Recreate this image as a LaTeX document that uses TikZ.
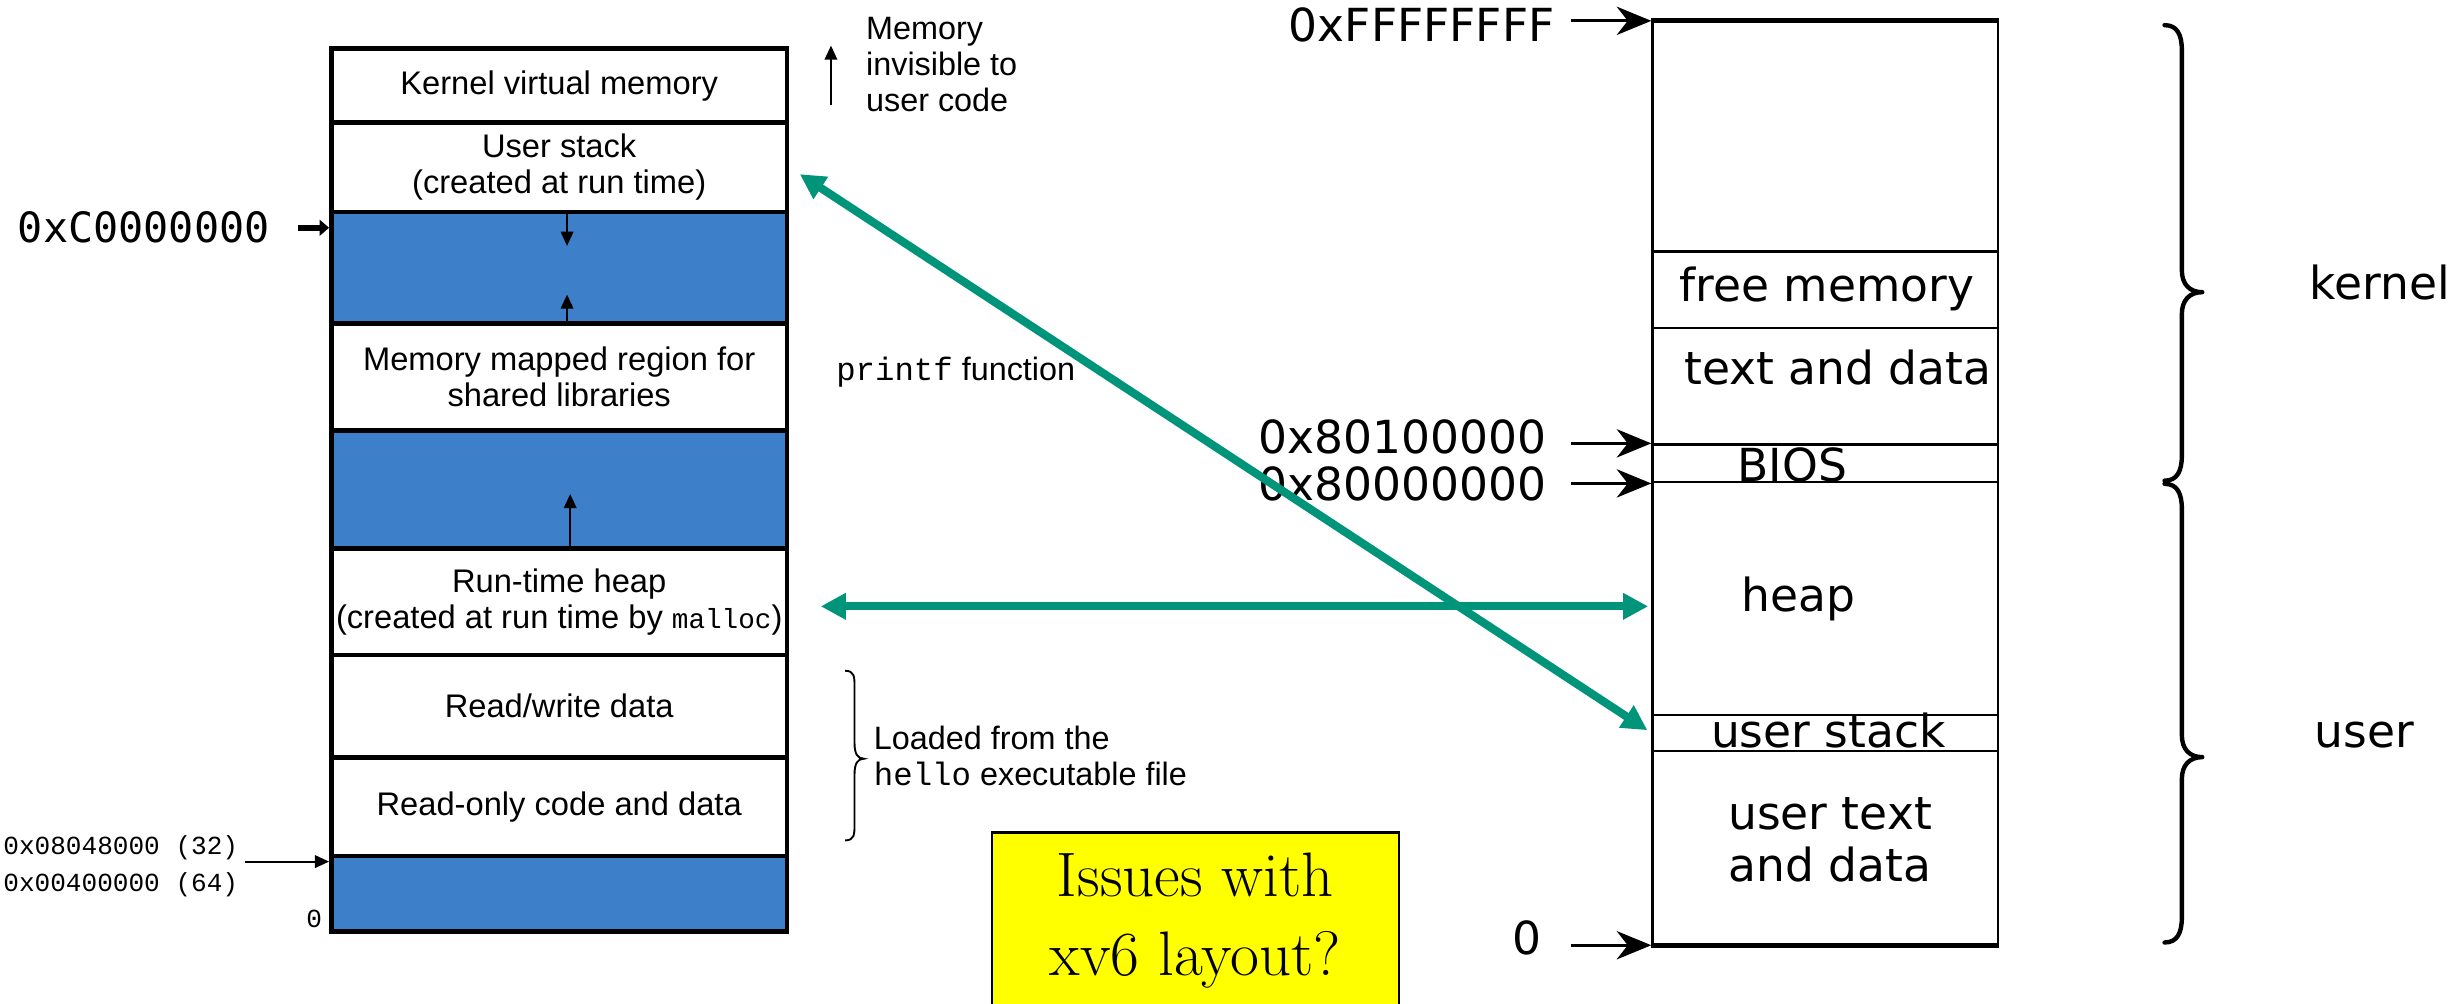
\documentclass[tikz,border=0pt]{standalone}
\usepackage{fontspec}
\usetikzlibrary{arrows.meta}
\newfontfamily\helv{Liberation Sans}
\newfontfamily\cour{Liberation Mono}
\newfontfamily\dvs{DejaVu Sans}
\newfontfamily\dvm{DejaVu Sans Mono}
\definecolor{scanblue}{RGB}{62,127,202}
\definecolor{linkgreen}{RGB}{0,148,122}
\definecolor{notebg}{RGB}{255,255,0}
\tikzset{
  seg/.style={draw, line width=1.5pt, minimum width=145pt, inner sep=1pt, align=center,
    fill=white, font=\helv\fontsize{10.4}{11.5}\selectfont},
  gapseg/.style={seg, fill=scanblue},
  xseg/.style={draw, line width=0.75pt, minimum width=110pt, inner sep=0pt},
  rlab/.style={font=\dvs\fontsize{14.5}{16.5}\selectfont, align=center, inner sep=0pt},
  note/.style={font=\helv\fontsize{10.3}{11.5}\selectfont, align=left, inner sep=0pt},
  tinyarrow/.style={line width=0.6pt, -{Triangle[length=4.5pt,width=4pt]}},
  addrarrow/.style={line width=1pt, -{Stealth[length=11pt,width=9pt,inset=3.5pt]}},
  link/.style={draw=linkgreen, line width=2.6pt,
    {Triangle[length=8pt,width=8pt]}-{Triangle[length=8pt,width=8pt]}},
  bracestroke/.style={line width=0.6pt},
  bigbrace/.style={line width=1.4pt, line cap=round, line join=round}
}
\begin{document}
\begin{tikzpicture}[x=0.5pt, y=-0.5pt]
\fill[white] (0,0) rectangle (1568,639);
\useasboundingbox (0,0) rectangle (1568,639);

% ---- process address space (left) ----
\node[seg, minimum height=23.5pt] (kvm) at (356,54.5) {Kernel virtual memory};
\node[seg, minimum height=28.5pt] (ustk) at (356,106.5) {User stack\\(created at run time)};
\node[gapseg, minimum height=35.5pt] (gapA) at (356,170.5) {};
\node[seg, minimum height=34pt] (mmap) at (356,240) {Memory mapped region for\\shared libraries};
\node[gapseg, minimum height=37.5pt] (gapB) at (356,311.5) {};
\node[seg, minimum height=34pt] (rtheap) at (356,383) {Run-time heap\\(created at run time by {\cour\fontsize{8.8}{11.5}\selectfont malloc})};
\node[seg, minimum height=32.5pt] (rwd) at (356,449.5) {Read/write data};
\node[seg, minimum height=31.5pt] (rocd) at (356,513.5) {Read-only code and data};
\node[gapseg, minimum height=24pt] (gapC) at (356,569) {};

% growth arrows
\draw[tinyarrow] ([xshift=2.5pt]gapA.north) -- ++(0,23);
\draw[tinyarrow] ([xshift=2.5pt]gapA.south) -- ++(0,-20);
\draw[tinyarrow] ([xshift=3.5pt]gapB.south) -- ++(0,-36);

% left-hand addresses
\node[anchor=east, font=\dvm\fontsize{13.3}{15}\selectfont, inner sep=0pt] (kc) at (172,145) {0xC0000000};
\draw[line width=2pt, -{Triangle[length=3pt,width=5pt]}, shorten <=9pt] (kc.east) -- (kc.east -| ustk.west);
\node[anchor=east, align=left, font=\cour\fontsize{8.3}{11.5}\selectfont, inner sep=0pt] (addr) at (152,551.5) {0x08048000 (32)\\0x00400000 (64)};
\draw[tinyarrow, shorten <=2pt] ([yshift=1.5pt]addr.east) -- ([yshift=1.5pt]addr.east -| gapC.west);
\node[font=\cour\fontsize{8.3}{10}\selectfont, inner sep=0pt] (zl) at (200,585) {0};

% annotations to the right of the stack
\node[note, anchor=west] (invis) at (551,41) {Memory\\invisible to\\user code};
\draw[tinyarrow] ([xshift=-11pt,yshift=-13pt]invis.west) -- ++(0,-38);
\node[note, anchor=west] (pf) at (532,237) {{\cour printf} function};
\node[note, anchor=west] (loaded) at (556,481.5) {Loaded from the\\{\cour hello} executable file};
\draw[bracestroke] (538,427) .. controls (544,427) and (544,431) .. (544,437) -- (544,473)
  .. controls (544,480) and (546,483) .. (550,483) .. controls (546,483) and (544,486) .. (544,493)
  -- (544,525) .. controls (544,531) and (544,535) .. (538,535);

% ---- xv6 layout (right) ----
\node[xseg, minimum height=73pt] (rtop) at (1162,87) {};
\node[xseg, minimum height=24.5pt] (rfree) at (1162,184.5) {};
\node[xseg, minimum height=37pt] (rktext) at (1162,246) {};
\node[xseg, minimum height=12pt] (rbios) at (1162,295) {};
\node[xseg, minimum height=74pt] (rheap) at (1162,381) {};
\node[xseg, minimum height=11.5pt] (rstk) at (1162,466.5) {};
\node[xseg, minimum height=61.5pt] (rutext) at (1162,539.5) {};
\draw[line width=1.6pt] (rtop.north west) -- (rtop.north east);
\draw[line width=1.6pt] (rutext.south west) -- (rutext.south east);

\node[rlab] (tfree) at (1163,184) {free memory};
\node[rlab] (tktext) at (1170,234) {text and data};
\node[rlab] (tbios) at (1141,296) {BIOS};
\node[rlab] (theap) at (1145,381) {heap};
\node[rlab] (tstk) at (1164,465) {user stack};
\node[rlab, align=center] (tutext) at (1165,534.5) {user text\\[0pt]and data};

\node[rlab, anchor=east] (aFF) at (990,16) {0xFFFFFFFF};
\draw[addrarrow, shorten <=5pt] (aFF.east |- rtop.north west) -- (rtop.north west);
\node[rlab, anchor=east] (a801) at (985,278) {0x80100000};
\draw[addrarrow, shorten <=7.5pt] (a801.east |- rbios.north west) -- (rbios.north west);
\node[rlab, anchor=east] (a800) at (985,308) {0x80000000};
\draw[addrarrow, shorten <=7.5pt] (a800.east |- rbios.south west) -- (rbios.south west);
\node[rlab, anchor=east] (a0) at (982,597) {0};
\draw[addrarrow, shorten <=9pt] (a0.east |- rutext.south west) -- (rutext.south west);

% kernel / user braces
\draw[bigbrace] (1378,16) .. controls (1386,16) and (1389,22) .. (1389,32) -- (1389,172)
  .. controls (1389,181) and (1394,186) .. (1402,186) .. controls (1394,186) and (1389,191) .. (1389,200)
  -- (1389,290) .. controls (1389,300) and (1386,306) .. (1378,306);
\draw[bigbrace] (1378,308) .. controls (1386,308) and (1389,314) .. (1389,324) -- (1389,468)
  .. controls (1389,477) and (1394,482) .. (1402,482) .. controls (1394,482) and (1389,487) .. (1389,496)
  -- (1389,584) .. controls (1389,594) and (1386,600) .. (1378,600);
\node[rlab, anchor=west] (kl) at (1470,180) {kernel};
\node[rlab, anchor=west] (ul) at (1473,468) {user};

% question box
\node[draw, line width=0.8pt, fill=notebg, minimum width=129.5pt, minimum height=56pt, align=center,
  font=\rmfamily\fontsize{20}{25}\selectfont] (issues) at (761,586) {Issues with\\xv6 layout?};

% correspondence links
\draw[link, shorten <=10pt, shorten >=1pt] ([yshift=-1.5pt]rtheap.east) -- ([yshift=-1.5pt]rtheap.east -| rheap.west);
\draw[link, shorten <=4pt, shorten >=1.5pt] (ustk.east) -- (rstk.west);
\end{tikzpicture}
\end{document}
